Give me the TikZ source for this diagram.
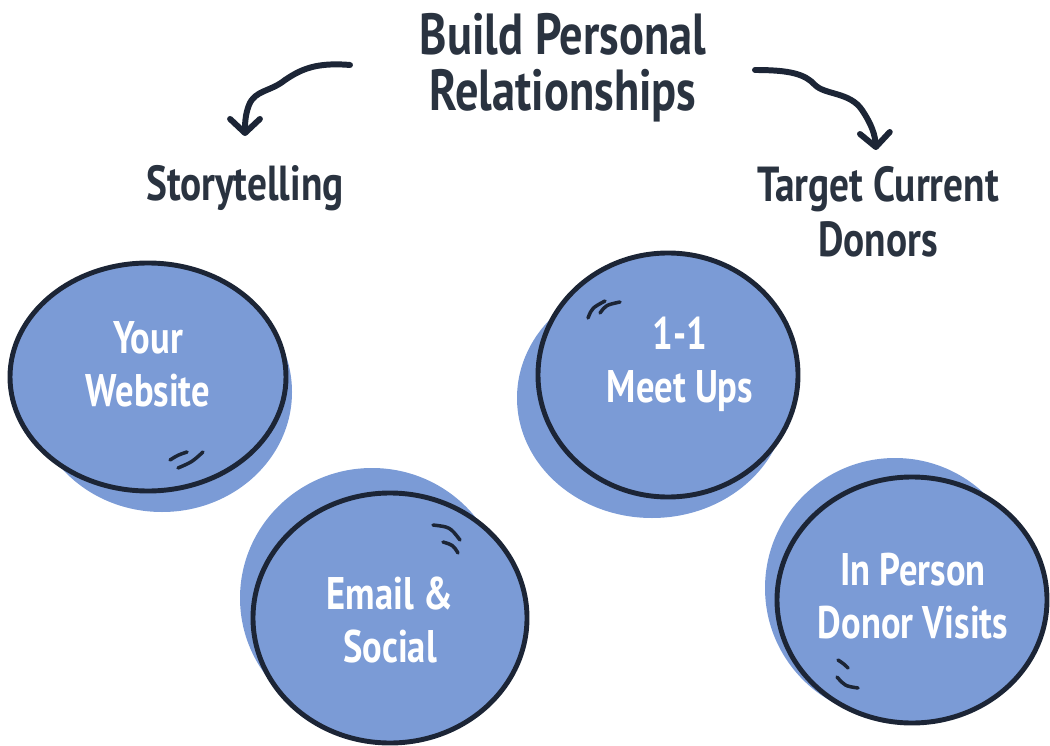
\documentclass[tikz,border=0pt]{standalone}
\usepackage{fontspec}
\setmainfont[FakeStretch=0.8]{PT Sans}
\usetikzlibrary{arrows.meta,shapes.geometric}
\definecolor{bubble}{HTML}{7B9BD6}
\definecolor{ink}{HTML}{1C2536}
\definecolor{txt}{HTML}{2A3340}
\begin{document}
\begin{tikzpicture}[x=0.02cm,y=0.02cm,
  bubbletext/.style={font=\bfseries\fontsize{26}{30}\selectfont, text=white, align=center},
  headtext/.style={font=\bfseries\fontsize{28}{31}\selectfont, text=txt, align=center},
  ring/.style={ellipse, draw=ink, line width=2.8pt, fill=bubble, inner sep=0pt},
  shade/.style={fill=bubble},
  gloss/.style={draw=ink, line width=2pt, line cap=round},
  flow/.style={draw=ink, line width=3.4pt, line cap=round,
    -{Straight Barb[length=8pt,width=17pt,line width=3.4pt,round]}}]
\useasboundingbox (0,0) rectangle (1050,-746);

% title and headings
\node[font=\bfseries\fontsize{33}{32}\selectfont, text=txt, align=center] (title) at (563,-68) {Build Personal\\Relationships};
\node[headtext] (story) at (245,-188) {Storytelling};
\node[headtext] (target) at (878,-212) {Target Current\\Donors};

% arrows from the title
\coordinate (la) at (350,-65);
\coordinate (lb) at (245,-136);
\coordinate (ra) at (755,-70);
\coordinate (rb) at (876,-150);
\draw[flow] (la) .. controls (315,-62) and (300,-70) .. (285,-80)
  .. controls (270,-92) and (255,-90) .. (249,-105)
  .. controls (245,-115) and (245,-125) .. (lb);
\draw[flow] (ra) .. controls (790,-70) and (805,-74) .. (815,-85)
  .. controls (825,-95) and (850,-92) .. (862,-110)
  .. controls (872,-125) and (875,-135) .. (rb);

% shadows behind the bubbles
\fill[shade] (162,-392) ellipse [x radius=130, y radius=120];
\fill[shade] (372,-598) ellipse [x radius=132, y radius=130];
\fill[shade] (652,-398) ellipse [x radius=135, y radius=120];
\fill[shade] (895,-588) ellipse [x radius=130, y radius=130];

% bubbles
\node[ring, minimum width=276*0.02cm, minimum height=228*0.02cm] (web) at (148,-377) {};
\node[ring, minimum width=274*0.02cm, minimum height=250*0.02cm] (mail) at (390,-618) {};
\node[ring, minimum width=260*0.02cm, minimum height=244*0.02cm] (meet) at (668,-375) {};
\node[ring, minimum width=270*0.02cm, minimum height=246*0.02cm] (visit) at (912,-600) {};

\node[bubbletext] (webt) at (148,-364) {Your\\Website};
\node[bubbletext] (mailt) at (390,-620) {Email \&\\Social};
\node[bubbletext] (meett) at (680,-364) {1-1\\Meet Ups};
\node[bubbletext] (visitt) at (913,-596) {In Person\\Donor Visits};

% gloss strokes
\draw[gloss] (170,-460) .. controls (178,-455) .. (187,-452);
\draw[gloss] (178,-468) .. controls (192,-462) .. (203,-452);
\draw[gloss] (433,-525) .. controls (450,-527) .. (460,-540);
\draw[gloss] (443,-542) .. controls (453,-545) .. (458,-553);
\draw[gloss] (588,-318) .. controls (592,-308) .. (605,-301);
\draw[gloss] (600,-313) .. controls (606,-305) .. (620,-302);
\draw[gloss] (838,-660) .. controls (844,-664) .. (848,-668);
\draw[gloss] (837,-677) .. controls (845,-686) .. (858,-688);
\end{tikzpicture}
\end{document}
